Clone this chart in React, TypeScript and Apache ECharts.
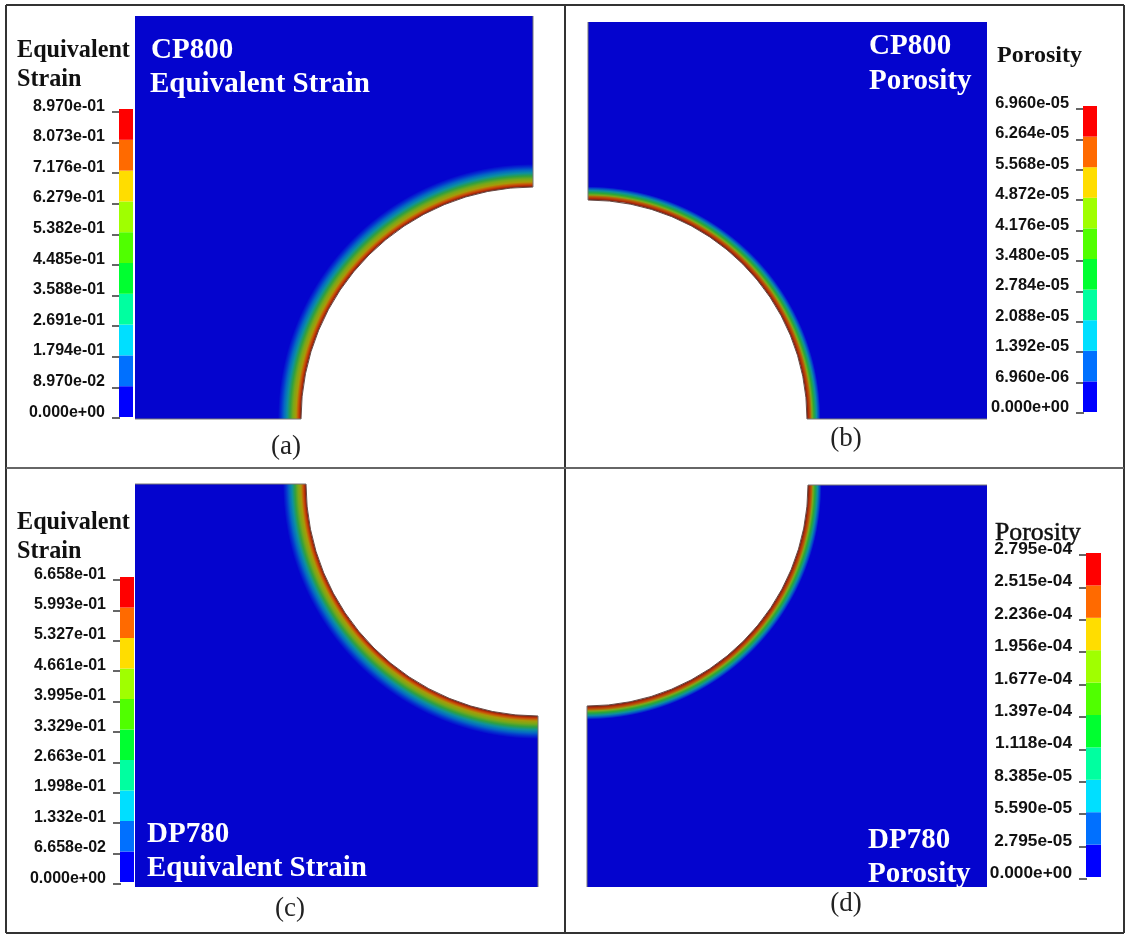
import React, { useEffect, useRef } from "react";
import * as echarts from "echarts";

// Specimen contour panels (a, b, c, d). Model units, hole at the notch corner.
const panelWidth = [398, 399, 403, 400];
const panelHeight = [403, 397, 403, 402];
const holeX = [398, 0, 403, 0];
const holeY = [0, 0, 403, 402];
const holeRadius = [232, 219, 232, 221];
const quadrantStart = [Math.PI, 1.5 * Math.PI, 0.5 * Math.PI, 0];
const panelLeft = [135, 588, 135, 587];
const panelTop = [16, 22, 484, 485];

// Contour profile read outward from the hole edge: [distance, colour]
const strainProfile: [number, string][] = [
  [0, "#7a1c10"], [1.5, "#b83008"], [3, "#c85808"], [5, "#a89a08"], [8, "#78a818"],
  [11, "#30a040"], [14, "#0c90a0"], [17, "#0468c4"], [20, "#0430d0"], [23, "#0404ce"],
];
const porosityProfile: [number, string][] = [
  [0, "#6a2014"], [1.5, "#b02a0a"], [3.5, "#b86008"], [5, "#80a818"], [7, "#28a838"],
  [9.5, "#0c90a0"], [11.5, "#0450c8"], [13.5, "#0404ce"],
];
const panelProfile = [strainProfile, porosityProfile, strainProfile, porosityProfile];
const bodyBlue = "#0404ce";

// Colour bars
const barColors = ["#0000ff", "#0070ff", "#00dfff", "#00ffa0", "#00ff30", "#50ff00", "#a0ff00", "#ffdd00", "#ff6a00", "#ff0000"];
const ticksA = ["0.000e+00", "8.970e-02", "1.794e-01", "2.691e-01", "3.588e-01", "4.485e-01", "5.382e-01", "6.279e-01", "7.176e-01", "8.073e-01", "8.970e-01"];
const ticksB = ["0.000e+00", "6.960e-06", "1.392e-05", "2.088e-05", "2.784e-05", "3.480e-05", "4.176e-05", "4.872e-05", "5.568e-05", "6.264e-05", "6.960e-05"];
const ticksC = ["0.000e+00", "6.658e-02", "1.332e-01", "1.998e-01", "2.663e-01", "3.329e-01", "3.995e-01", "4.661e-01", "5.327e-01", "5.993e-01", "6.658e-01"];
const ticksD = ["0.000e+00", "2.795e-05", "5.590e-05", "8.385e-05", "1.118e-04", "1.397e-04", "1.677e-04", "1.956e-04", "2.236e-04", "2.515e-04", "2.795e-04"];
const allTicks = [ticksA, ticksB, ticksC, ticksD];

const barLeft = [119, 1083, 120, 1086];
const barTop = [109, 106, 577, 553];
const barHeight = [308, 306, 305, 324];
const barWidth = [14, 14, 14, 15];
const tickTop = [112, 109, 580, 555];
const tickHeight = [306, 304, 304, 324];
const labelSize = [16, 16.4, 16, 17.3];

const panelLetters = ["(a)", "(b)", "(c)", "(d)"];
const letterX = [286, 846, 290, 846];
const letterY = [445, 437, 907, 902];

const serif = '"Liberation Serif", serif';

function text(str: string, x: number, y: number, size: number, fill: string, weight = "bold", align = "left", strokeWidth = 0) {
  return {
    type: "text", x, y, z: 20,
    style: {
      text: str, fill, fontFamily: serif, fontSize: size, fontWeight: weight, align, verticalAlign: "middle",
      ...(strokeWidth ? { stroke: fill, lineWidth: strokeWidth } : {}),
    },
  };
}

function frameLine(x1: number, y1: number, x2: number, y2: number, stroke: string) {
  return { type: "line", z: 10, shape: { x1, y1, x2, y2 }, style: { stroke, lineWidth: 2 } };
}

export default function App() {
  const ref = useRef<HTMLDivElement>(null);
  useEffect(() => {
    const chart = echarts.init(ref.current!, undefined, { renderer: "svg" });
    const grids: any[] = [];
    const xAxes: any[] = [];
    const yAxes: any[] = [];
    const series: any[] = [];

    // Contour panels
    for (let i = 0; i < 4; i++) {
      const g = grids.length;
      grids.push({ left: panelLeft[i], top: panelTop[i], width: panelWidth[i], height: panelHeight[i] });
      xAxes.push({ gridIndex: g, type: "value", min: 0, max: panelWidth[i], show: false });
      yAxes.push({ gridIndex: g, type: "value", min: 0, max: panelHeight[i], show: false });
      const profile = panelProfile[i];
      const start = quadrantStart[i];
      series.push({
        type: "custom", xAxisIndex: g, yAxisIndex: g, silent: true, clip: false,
        data: [[holeX[i], holeY[i], holeRadius[i], panelWidth[i], panelHeight[i]]],
        renderItem: (_p: any, api: any) => {
          const [cx, cy] = api.coord([api.value(0), api.value(1)]);
          const r = api.size([api.value(2), 0])[0];
          const tl = api.coord([0, api.value(4)]);
          const br = api.coord([api.value(3), 0]);
          const band = profile[profile.length - 1][0];
          const rOut = r + band;
          const stops = profile.map(([d, color]) => ({ offset: (r + d) / rOut, color }));
          const grad = new echarts.graphic.RadialGradient(cx, cy, rOut, [{ offset: 0, color: profile[0][1] }, ...stops], true);
          const xFar = cx === br[0] ? tl[0] : br[0];
          const yFar = cy === br[1] ? tl[1] : br[1];
          return {
            type: "group",
            children: [
              { type: "rect", shape: { x: tl[0], y: tl[1], width: br[0] - tl[0], height: br[1] - tl[1] }, style: { fill: bodyBlue } },
              { type: "sector", shape: { cx, cy, r: rOut, r0: 0, startAngle: start, endAngle: start + Math.PI / 2 }, style: { fill: grad } },
              { type: "sector", shape: { cx, cy, r, r0: 0, startAngle: start, endAngle: start + Math.PI / 2 }, style: { fill: "#ffffff" } },
              { type: "arc", shape: { cx, cy, r, startAngle: start, endAngle: start + Math.PI / 2 }, style: { stroke: "#6a4a44", lineWidth: 1, fill: "none" } },
              { type: "line", shape: { x1: cx, y1: yFar, x2: cx, y2: cy + (cy === br[1] ? -r : r) }, style: { stroke: "#777777", lineWidth: 1 } },
              { type: "line", shape: { x1: xFar, y1: cy, x2: cx + (cx === br[0] ? -r : r), y2: cy }, style: { stroke: "#777777", lineWidth: 1 } },
            ],
          };
        },
      });
    }

    // Colour bars
    for (let i = 0; i < 4; i++) {
      const g = grids.length;
      grids.push({ left: barLeft[i], top: barTop[i], width: barWidth[i], height: barHeight[i] });
      xAxes.push({ gridIndex: g, type: "value", min: 0, max: 1, show: false });
      yAxes.push({ gridIndex: g, type: "value", min: 0, max: barColors.length, show: false });
      series.push({
        type: "custom", xAxisIndex: g, yAxisIndex: g, silent: true,
        data: barColors.map((_, k) => [k, k + 1]),
        renderItem: (params: any, api: any) => {
          const a = api.coord([0, api.value(1)]);
          const b = api.coord([1, api.value(0)]);
          return {
            type: "rect",
            shape: { x: a[0], y: a[1], width: b[0] - a[0], height: b[1] - a[1] },
            style: { fill: barColors[params.dataIndex] },
          };
        },
      });
    }

    // Tick marks and labels of the colour bars
    for (let i = 0; i < 4; i++) {
      const g = grids.length;
      grids.push({ left: barLeft[i] + 1, top: tickTop[i], width: 1, height: tickHeight[i] });
      xAxes.push({ gridIndex: g, type: "value", min: 0, max: 1, show: false });
      yAxes.push({
        gridIndex: g, type: "category", boundaryGap: false, data: allTicks[i], position: "left",
        axisLine: { show: false },
        axisTick: { show: true, length: 8, alignWithLabel: true, lineStyle: { color: "#333333", width: 1.5 } },
        axisLabel: {
          show: true, interval: 0, margin: 15, color: "#111111", fontFamily: '"Liberation Sans", sans-serif',
          fontWeight: "bold", fontSize: labelSize[i], lineHeight: 14, verticalAlign: "bottom", hideOverlap: false,
        },
        splitLine: { show: false },
      });
    }

    const graphic: any[] = [
      frameLine(6, 5, 1124, 5, "#333333"), frameLine(1124, 5, 1124, 933, "#333333"),
      frameLine(1124, 933, 6, 933, "#333333"), frameLine(6, 933, 6, 5, "#333333"),
      frameLine(565, 5, 565, 933, "#333333"), frameLine(6, 468, 1124, 468, "#666666"),
      text("Equivalent", 17, 48, 24.2, "#111111"), text("Strain", 17, 77, 24.2, "#111111"),
      text("CP800", 151, 47.5, 29, "#ffffff"), text("Equivalent Strain", 150, 81.5, 29, "#ffffff"),
      text("CP800", 869, 44, 29, "#ffffff"), text("Porosity", 869, 79, 29, "#ffffff"),
      text("Porosity", 997, 54, 24, "#111111"),
      text("Equivalent", 17, 520, 24.2, "#111111"), text("Strain", 17, 549, 24.2, "#111111"),
      text("DP780", 147, 832, 29, "#ffffff"), text("Equivalent Strain", 147, 866, 29, "#ffffff"),
      text("DP780", 868, 838, 29, "#ffffff"), text("Porosity", 868, 872, 29, "#ffffff"),
      text("Porosity", 995, 531, 25.8, "#111111", "normal", "left", 0.5),
      ...panelLetters.map((s, i) => text(s, letterX[i], letterY[i], 27, "#222222", "normal", "center")),
    ];

    chart.setOption({
      animation: false,
      backgroundColor: "#ffffff",
      grid: grids,
      xAxis: xAxes,
      yAxis: yAxes,
      series,
      graphic,
    });
    return () => chart.dispose();
  }, []);
  return (
    <div
      ref={ref}
      style={{ position: "fixed", left: 0, top: 0, width: 1126, height: 934, filter: "blur(0.7px)" }}
    />
  );
}
